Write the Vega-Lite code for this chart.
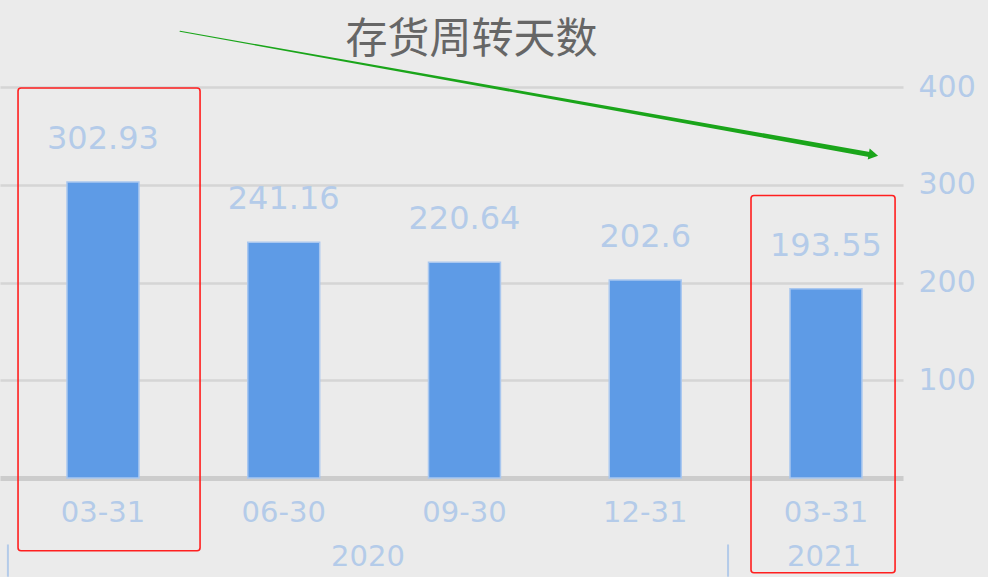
{
  "$schema": "https://vega.github.io/schema/vega-lite/v6.json",
  "width": 903,
  "height": 391,
  "autosize": "none",
  "padding": {"left": 0, "top": 87, "right": 85, "bottom": 99},
  "background": "#ebebeb",
  "config": {"view": {"stroke": null}, "font": "DejaVu Sans"},
  "title": {
    "text": "存货周转天数",
    "font": "Noto Sans CJK SC",
    "fontSize": 42,
    "fontWeight": "normal",
    "color": "#666666",
    "anchor": "middle",
    "frame": "group",
    "dx": 20,
    "offset": -31
  },
  "datasets": {
    "bars": [
      {"cat": "2020-03-31", "label": "03-31", "value": 302.93},
      {"cat": "2020-06-30", "label": "06-30", "value": 241.16},
      {"cat": "2020-09-30", "label": "09-30", "value": 220.64},
      {"cat": "2020-12-31", "label": "12-31", "value": 202.6},
      {"cat": "2021-03-31", "label": "03-31", "value": 193.55}
    ],
    "boxes": [
      {"x": -0.47, "x2": 0.537, "y": 399, "y2": -74.5},
      {"x": 3.585, "x2": 4.382, "y": 289, "y2": -97}
    ],
    "arrow": [
      {"x": 0.426, "y": 457, "o": 0},
      {"x": 4.24, "y": 331, "o": 1}
    ],
    "head": [
      {"x": 4.262, "y": 330.6}
    ],
    "years": [
      {"x": 1.466, "y": -80.6, "year": "2020"},
      {"x": 3.989, "y": -80.6, "year": "2021"}
    ],
    "ticks": [
      {"x": -0.526, "y": -68, "y2": -101},
      {"x": 3.458, "y": -68, "y2": -101}
    ]
  },
  "layer": [
    {
      "data": {"name": "bars"},
      "layer": [
        {
          "mark": {"type": "bar", "color": "#5e9be6", "stroke": "#a9c7ef", "strokeWidth": 1.5},
          "encoding": {
            "x": {
              "field": "cat", "type": "nominal", "sort": null,
              "scale": {"paddingInner": 0.602, "paddingOuter": 0.299, "align": 0.62},
              "axis": {
                "title": null,
                "labelExpr": "slice(datum.value, 5)",
                "labelAngle": 0,
                "labelFontSize": 29,
                "labelColor": "#b4cbe9",
                "labelPadding": 20,
                "ticks": false,
                "domainColor": "#cccccc",
                "domainWidth": 5,
                "grid": false
              }
            },
            "y": {
              "field": "value", "type": "quantitative",
              "scale": {"domain": [0, 400], "nice": false},
              "axis": {
                "orient": "right",
                "title": null,
                "values": [100, 200, 300, 400],
                "labelFontSize": 30,
                "labelColor": "#b4cbe9",
                "labelPadding": 15,
                "ticks": false,
                "domain": false,
                "grid": true,
                "gridColor": "#d5d5d5",
                "gridWidth": 2.5
              }
            }
          }
        },
        {
          "mark": {"type": "text", "fontSize": 32, "color": "#b4cbe9", "baseline": "alphabetic", "dy": -33},
          "encoding": {
            "x": {"field": "cat", "type": "nominal", "sort": null},
            "y": {"field": "value", "type": "quantitative", "scale": {"domain": [0, 400], "nice": false}},
            "text": {"field": "value", "type": "quantitative"}
          }
        }
      ]
    },
    {
      "layer": [
        {
          "data": {"name": "boxes"},
          "mark": {"type": "rect", "filled": false, "stroke": "#ff1f1f", "strokeWidth": 1.6, "cornerRadius": 3},
          "encoding": {
            "x": {"field": "x", "type": "quantitative", "scale": {"domain": [-0.5698, 4.4259], "nice": false, "zero": false}, "axis": null},
            "x2": {"field": "x2"},
            "y": {"field": "y", "type": "quantitative", "scale": {"domain": [0, 400], "nice": false}, "axis": null},
            "y2": {"field": "y2"}
          }
        },
        {
          "data": {"name": "arrow"},
          "mark": {"type": "trail", "color": "#1aa51a"},
          "encoding": {
            "x": {"field": "x", "type": "quantitative", "axis": null},
            "y": {"field": "y", "type": "quantitative", "scale": {"domain": [0, 400], "nice": false}, "axis": null},
            "order": {"field": "o"},
            "size": {"field": "o", "type": "quantitative", "scale": {"range": [1, 5]}, "legend": null}
          }
        },
        {
          "data": {"name": "head"},
          "mark": {"type": "point", "shape": "triangle-right", "filled": true, "color": "#1aa51a", "opacity": 1, "size": 120, "angle": 10},
          "encoding": {
            "x": {"field": "x", "type": "quantitative", "axis": null},
            "y": {"field": "y", "type": "quantitative", "scale": {"domain": [0, 400], "nice": false}, "axis": null}
          }
        },
        {
          "data": {"name": "years"},
          "mark": {"type": "text", "fontSize": 29, "color": "#b4cbe9", "baseline": "middle"},
          "encoding": {
            "x": {"field": "x", "type": "quantitative", "axis": null},
            "y": {"field": "y", "type": "quantitative", "scale": {"domain": [0, 400], "nice": false}, "axis": null},
            "text": {"field": "year", "type": "nominal"}
          }
        },
        {
          "data": {"name": "ticks"},
          "mark": {"type": "rule", "color": "#b4cbe9", "strokeWidth": 2},
          "encoding": {
            "x": {"field": "x", "type": "quantitative", "axis": null},
            "y": {"field": "y", "type": "quantitative", "scale": {"domain": [0, 400], "nice": false}, "axis": null},
            "y2": {"field": "y2"}
          }
        }
      ]
    }
  ],
  "resolve": {"scale": {"x": "independent"}, "axis": {"x": "independent", "y": "independent"}}
}
